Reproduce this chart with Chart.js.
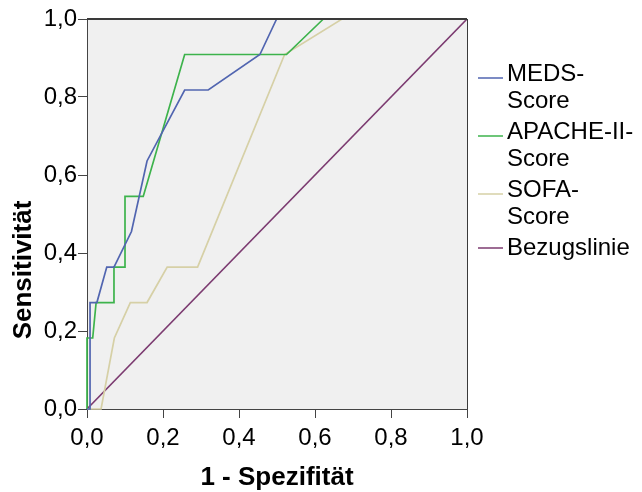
<!DOCTYPE html>
<html>
<head>
<meta charset="utf-8">
<script src="https://cdn.jsdelivr.net/npm/chart.js"></script>
<style>
  html, body { margin: 0; padding: 0; background: #fff; }
  #wrap { width: 642px; height: 492px; }
</style>
</head>
<body>
<div id="wrap"><canvas id="roc" width="642" height="492"></canvas></div>
<script>
// ROC-Kurven: MEDS-, APACHE-II- und SOFA-Score gegen die Bezugslinie
const xTickLabels = ['0,0', '0,2', '0,4', '0,6', '0,8', '1,0'];
const yTickLabels = ['0,0', '0,2', '0,4', '0,6', '0,8', '1,0'];

const medsFpr = [0, 0.008, 0.008, 0.026, 0.052, 0.071, 0.117, 0.158, 0.257, 0.319, 0.455, 0.499, 1];
const medsTpr = [0, 0, 0.273, 0.273, 0.364, 0.364, 0.455, 0.636, 0.818, 0.818, 0.909, 1, 1];

const apacheFpr = [0, 0, 0.015, 0.024, 0.071, 0.071, 0.100, 0.100, 0.148, 0.257, 0.525, 0.622, 1];
const apacheTpr = [0, 0.182, 0.182, 0.273, 0.273, 0.364, 0.364, 0.545, 0.545, 0.909, 0.909, 1, 1];

const sofaFpr = [0, 0.037, 0.072, 0.114, 0.158, 0.211, 0.291, 0.520, 0.671, 1];
const sofaTpr = [0, 0, 0.182, 0.273, 0.273, 0.364, 0.364, 0.909, 1, 1];

const refFpr = [0, 1];
const refTpr = [0, 1];

const seriesLabels = [['MEDS-', 'Score'], ['APACHE-II-', 'Score'], ['SOFA-', 'Score'], ['Bezugslinie']];
const seriesColors = ['#5165b0', '#3db34c', '#d6d0a6', '#7c3b70'];

const FONT = '"Liberation Sans", Arial, sans-serif';

const toPoints = (xs, ys) => xs.map((x, i) => ({ x: x, y: ys[i] }));

const curves = [
  toPoints(medsFpr, medsTpr),
  toPoints(apacheFpr, apacheTpr),
  toPoints(sofaFpr, sofaTpr),
  toPoints(refFpr, refTpr)
];

const datasets = curves.map((pts, i) => ({
  label: seriesLabels[i].join(''),
  data: pts,
  borderColor: seriesColors[i],
  backgroundColor: seriesColors[i],
  borderWidth: 1.7,
  pointRadius: 0,
  tension: 0,
  fill: false,
  clip: 3
}));

// grey plot background and dark frame
const plotFrame = {
  id: 'plotFrame',
  beforeDraw(chart) {
    const { ctx, chartArea: a } = chart;
    ctx.save();
    ctx.fillStyle = '#f0f0f0';
    ctx.fillRect(a.left, a.top, a.right - a.left, a.bottom - a.top);
    ctx.restore();
  },
  afterDatasetsDraw(chart) {
    const { ctx, chartArea: a } = chart;
    ctx.save();
    ctx.strokeStyle = '#3a3a3a';
    ctx.lineWidth = 2;
    ctx.beginPath();
    ctx.moveTo(a.left, a.top);
    ctx.lineTo(a.right, a.top);
    ctx.stroke();
    ctx.lineWidth = 1;
    ctx.beginPath();
    ctx.moveTo(a.right + 0.5, a.top);
    ctx.lineTo(a.right + 0.5, a.bottom);
    ctx.stroke();
    ctx.restore();
  }
};

// axis titles (the vertical one sits lower than the plot centre)
const axisTitles = {
  id: 'axisTitles',
  afterDraw(chart) {
    const { ctx, chartArea: a } = chart;
    ctx.save();
    ctx.fillStyle = '#000';
    ctx.font = 'bold 26px ' + FONT;
    ctx.textAlign = 'center';
    ctx.textBaseline = 'middle';
    ctx.fillText('1 - Spezifität', (a.left + a.right) / 2, 478);
    ctx.translate(24, 270);
    ctx.rotate(-Math.PI / 2);
    ctx.fillText('Sensitivität', 0, 0);
    ctx.restore();
  }
};

// legend on the right with wrapped labels
const sideLegend = {
  id: 'sideLegend',
  afterDraw(chart) {
    const { ctx, chartArea: a } = chart;
    const lineH = 27;
    const x0 = a.right + 11;
    let y = 74;
    ctx.save();
    ctx.font = '24px ' + FONT;
    ctx.textBaseline = 'middle';
    ctx.textAlign = 'left';
    chart.data.datasets.forEach((ds, i) => {
      const lines = seriesLabels[i];
      ctx.strokeStyle = ds.borderColor;
      ctx.lineWidth = 1.5;
      const sy = lines.length > 1 ? y + 4 : y;
      ctx.beginPath();
      ctx.moveTo(x0, sy);
      ctx.lineTo(x0 + 25, sy);
      ctx.stroke();
      ctx.fillStyle = '#000';
      lines.forEach((t, k) => ctx.fillText(t, x0 + 29, y + k * lineH));
      y += lines.length * lineH + (lines.length > 1 ? 4 : 0);
    });
    ctx.restore();
  }
};

new Chart(document.getElementById('roc'), {
  type: 'line',
  data: { datasets: datasets },
  options: {
    responsive: false,
    animation: false,
    layout: { padding: { top: 19, right: 175, left: 0, bottom: 0 } },
    plugins: {
      legend: { display: false },
      tooltip: { enabled: false }
    },
    scales: {
      x: {
        type: 'linear',
        min: 0,
        max: 1,
        afterFit: (s) => { s.height = 83; },
        ticks: {
          stepSize: 0.2,
          callback: (v, i) => xTickLabels[i],
          font: { family: FONT, size: 24 },
          color: '#000',
          padding: 6,
          maxRotation: 0
        },
        grid: { drawOnChartArea: false, tickLength: 9, color: '#444' },
        border: { color: '#444', width: 1 }
      },
      y: {
        type: 'linear',
        min: 0,
        max: 1,
        afterFit: (s) => { s.width = 87; },
        ticks: {
          stepSize: 0.2,
          callback: (v, i) => yTickLabels[i],
          font: { family: FONT, size: 24 },
          color: '#000',
          padding: 1
        },
        grid: { drawOnChartArea: false, tickLength: 9, color: '#444' },
        border: { color: '#444', width: 1 }
      }
    }
  },
  plugins: [plotFrame, axisTitles, sideLegend]
});
</script>
</body>
</html>
